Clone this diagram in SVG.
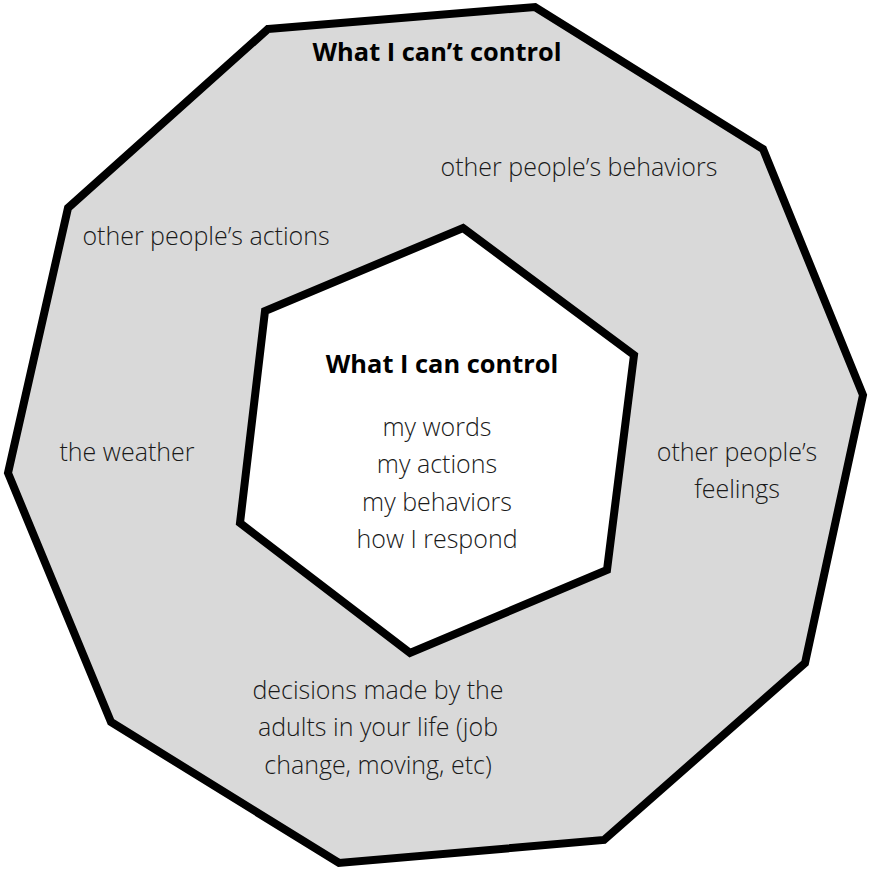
<svg xmlns="http://www.w3.org/2000/svg" width="871" height="871" viewBox="0 0 871 871">
  <style>
    .ring { stroke: #000; stroke-width: 8; stroke-linejoin: miter; }
    .t { font-family: "Open Sans", "Liberation Sans", sans-serif; font-size: 25px; font-weight: 300; fill: #1a1a1a; text-anchor: middle; }
    .h { font-family: "Open Sans", "Liberation Sans", sans-serif; font-size: 25.4px; font-weight: 700; fill: #000; text-anchor: middle; }
  </style>
  <rect width="871" height="871" fill="#fff"/>

  <!-- outer decagon: things outside my control -->
  <g id="outer">
    <polygon class="ring" fill="#d9d9d9" points="268,29 535,7 763,149 863,395 805,663 604,840 339,863 111,722 8,473 68,208"/>
    <text class="h" x="437" y="61">What I can’t control</text>
    <text class="t" x="579" y="176">other people’s behaviors</text>
    <text class="t" x="206" y="245">other people’s actions</text>
    <text class="t" x="127" y="461">the weather</text>
    <text class="t" x="737" y="461">other people’s</text>
    <text class="t" x="737" y="498">feelings</text>
    <text class="t" x="378" y="699">decisions made by the</text>
    <text class="t" x="378" y="736">adults in your life (job</text>
    <text class="t" x="378" y="774">change, moving, etc)</text>
  </g>

  <!-- inner hexagon: things within my control -->
  <g id="inner">
    <polygon class="ring" fill="#fff" points="463,228 634,355 607,570 410,653 240,523 265,311"/>
    <text class="h" x="442" y="373">What I can control</text>
    <text class="t" x="437" y="436">my words</text>
    <text class="t" x="437" y="473">my actions</text>
    <text class="t" x="437" y="511">my behaviors</text>
    <text class="t" x="437" y="548">how I respond</text>
  </g>

  <g id="connectors"></g>
</svg>
